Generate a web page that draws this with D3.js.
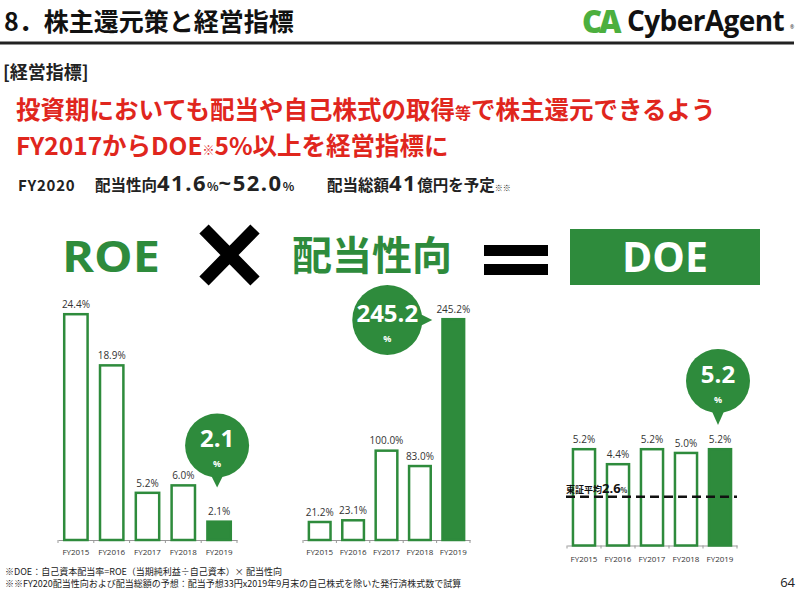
<!DOCTYPE html>
<html><head><meta charset="utf-8">
<script src="https://cdn.jsdelivr.net/npm/d3@7"></script>
<style>body{margin:0;background:#fff} svg{display:block}</style>
</head><body>
<svg id="c" width="800" height="590"></svg>
<script>
const years = ["FY2015","FY2016","FY2017","FY2018","FY2019"];
const roeValues = [24.4, 18.9, 5.2, 6.0, 2.1];
const payoutValues = [21.2, 23.1, 100.0, 83.0, 245.2];
const doeValues = [5.2, 4.4, 5.2, 5.0, 5.2];
const tseAverage = 2.6;

const GREEN = "#2e8b3c", RED = "#e0261d", JP = "'Noto Sans CJK JP', sans-serif", LAT = "'Open Sans', 'Noto Sans', sans-serif";
const svg = d3.select("#c");
const fmt = d3.format(".1f");

// Header
svg.append("text").attr("x", 4).attr("y", 31).attr("font-family", JP).attr("font-weight", 700)
  .attr("font-size", 25).attr("fill", "#111").text("8．株主還元策と経営指標");
svg.append("line").attr("x1", 0).attr("x2", 794).attr("y1", 43).attr("y2", 43).attr("stroke", "#222").attr("stroke-width", 3);
// logo
const logo = svg.append("g");
logo.append("text").attr("x", 582).attr("y", 33).attr("font-family", LAT).attr("font-weight", 800).attr("font-size", 31)
  .attr("fill", "#4caf3e").attr("letter-spacing", -3).text("CA");
logo.append("text").attr("x", 627).attr("y", 31).attr("font-family", LAT).attr("font-weight", 700).attr("font-size", 28)
  .attr("fill", "#111").attr("letter-spacing", -0.6).text("CyberAgent");
logo.append("text").attr("x", 790).attr("y", 29).attr("font-family", LAT).attr("font-size", 5).attr("fill", "#111").text("®");

svg.append("text").attr("x", 3).attr("y", 79).attr("font-family", JP).attr("font-weight", 700)
  .attr("font-size", 18).attr("fill", "#222").text("[経営指標]");

// Red headline
const r1 = svg.append("text").attr("x", 16).attr("y", 119).attr("font-family", JP).attr("font-weight", 700).attr("fill", RED);
r1.append("tspan").attr("font-size", 24.5).text("投資期においても配当や自己株式の取得");
r1.append("tspan").attr("font-size", 16).text("等");
r1.append("tspan").attr("font-size", 24.5).text("で株主還元できるよう");
const r2 = svg.append("text").attr("x", 16).attr("y", 155).attr("font-family", JP).attr("font-weight", 700).attr("fill", RED);
r2.append("tspan").attr("font-size", 24.5).text("FY2017からDOE");
r2.append("tspan").attr("font-size", 12).text("※");
r2.append("tspan").attr("font-size", 24.5).text("5%以上を経営指標に");

// line 3
const l3 = svg.append("text").attr("x", 18).attr("y", 191).attr("font-family", JP).attr("font-weight", 700).attr("fill", "#222");
l3.append("tspan").attr("font-size", 15).attr("letter-spacing", 0.8).text("FY2020");
l3.append("tspan").attr("x", 95).attr("font-size", 15.5).text("配当性向");
l3.append("tspan").attr("font-size", 22).attr("font-family", LAT).attr("letter-spacing", 1.5).text("41.6");
l3.append("tspan").attr("font-size", 12).text("%");
l3.append("tspan").attr("font-size", 22).attr("font-family", LAT).attr("letter-spacing", 1.5).text("~52.0");
l3.append("tspan").attr("font-size", 12).text("%");
l3.append("tspan").attr("x", 327).attr("font-size", 15.5).text("配当総額");
l3.append("tspan").attr("font-size", 22).attr("font-family", LAT).attr("letter-spacing", 1.5).text("41");
l3.append("tspan").attr("font-size", 15.5).text("億円を予定");
l3.append("tspan").attr("font-size", 8).text("※※");

// Section headings
svg.append("text").attr("x", 62).attr("y", 272).attr("font-family", LAT).attr("font-weight", 700)
  .attr("font-size", 43).attr("fill", GREEN).attr("textLength", 98).attr("lengthAdjust", "spacingAndGlyphs").text("ROE");
svg.append("path").attr("d", "M204,229 L255,281 M255,229 L204,281").attr("stroke", "#000").attr("stroke-width", 13);
svg.append("text").attr("x", 292).attr("y", 270).attr("font-family", JP).attr("font-weight", 700)
  .attr("font-size", 40).attr("fill", GREEN).text("配当性向");
svg.append("rect").attr("x", 484).attr("y", 245).attr("width", 64).attr("height", 11).attr("fill", "#000");
svg.append("rect").attr("x", 484).attr("y", 264).attr("width", 64).attr("height", 11).attr("fill", "#000");
svg.append("rect").attr("x", 570).attr("y", 229).attr("width", 190).attr("height", 56).attr("fill", GREEN);
svg.append("text").attr("x", 665).attr("y", 272).attr("text-anchor", "middle").attr("font-family", LAT).attr("font-weight", 700)
  .attr("font-size", 41).attr("fill", "#fff").text("DOE");

function bubble(cx, cy, r, tx, ty, label) {
  const g = svg.append("g");
  const ang = Math.atan2(ty - cy, tx - cx);
  const px = -Math.sin(ang), py = Math.cos(ang);
  const bx = cx + Math.cos(ang) * (r - 6), by = cy + Math.sin(ang) * (r - 6);
  g.append("path").attr("d", `M${bx + px * 8},${by + py * 8} L${tx},${ty} L${bx - px * 8},${by - py * 8} Z`).attr("fill", GREEN);
  g.append("circle").attr("cx", cx).attr("cy", cy).attr("r", r).attr("fill", GREEN);
  g.append("text").attr("x", cx).attr("y", cy + 2).attr("text-anchor", "middle").attr("font-family", LAT)
    .attr("font-weight", 700).attr("font-size", 24).attr("fill", "#fff").text(label);
  g.append("text").attr("x", cx).attr("y", cy + 22).attr("text-anchor", "middle").attr("font-family", LAT)
    .attr("font-weight", 700).attr("font-size", 9).attr("fill", "#fff").text("%");
}

function barChart(values, xr, base, top, labelY) {
  const x = d3.scaleBand().domain(years).range(xr).paddingInner(0.28).paddingOuter(0.14);
  const y = d3.scaleLinear().domain([0, d3.max(values)]).range([base, top]);
  const g = svg.append("g");
  const ax = g.append("g").attr("transform", `translate(0,${base})`)
    .call(d3.axisBottom(x).tickSize(0).tickPadding(labelY - base));
  ax.select(".domain").attr("stroke", "#999").attr("stroke-width", 1);
  ax.selectAll("text").attr("font-family", LAT).attr("font-size", 8).attr("fill", "#333");
  const bounds = d3.range(years.length + 1).map(i => xr[0] + i * x.step());
  g.selectAll(".bt").data(bounds).join("line").attr("x1", d => d).attr("x2", d => d)
    .attr("y1", base).attr("y2", base + 3).attr("stroke", "#999");
  g.selectAll(".bar").data(values).join("rect")
    .attr("x", (d, i) => x(years[i]) + 1.2).attr("width", x.bandwidth() - 2.4)
    .attr("y", d => y(d) + 1.2).attr("height", d => base - y(d) - 1.2)
    .attr("fill", (d, i) => i === years.length - 1 ? GREEN : "#fff")
    .attr("stroke", GREEN).attr("stroke-width", 2.5);
  g.selectAll(".val").data(values).join("text")
    .attr("x", (d, i) => x(years[i]) + x.bandwidth() / 2).attr("y", d => y(d) - 5)
    .attr("text-anchor", "middle").attr("font-family", LAT).attr("font-size", 10).attr("fill", "#333")
    .text(d => fmt(d) + "%");
  return { x, y };
}

// ROE
const c1 = barChart(roeValues, [58, 237], 540, 313, 549);
{
  const last = years[4], cx = c1.x(last) + c1.x.bandwidth() / 2 - 2;
  const ty = c1.y(roeValues[4]) - 33;
  bubble(cx, ty - 42, 32, cx, ty, fmt(roeValues[4]));
}
// Payout
const c2 = barChart(payoutValues, [303, 470], 540, 318, 549);
{
  const last = years[4];
  const tx = c2.x(last) - 9, ty = c2.y(payoutValues[4]) + 2;
  bubble(tx - 45, ty, 35, tx, ty, fmt(payoutValues[4]));
}
// DOE
const c3 = barChart(doeValues, [567, 737], 545.5, 448, 556);
{
  const last = years[4], cx = c3.x(last) + c3.x.bandwidth() / 2 - 2;
  const ty = c3.y(doeValues[4]) - 23;
  bubble(cx, ty - 44, 32, cx, ty, fmt(doeValues[4]));
  const yl = c3.y(tseAverage);
  svg.append("line").attr("x1", 566).attr("x2", 737).attr("y1", yl).attr("y2", yl)
    .attr("stroke", "#111").attr("stroke-width", 2.5).attr("stroke-dasharray", "9,5");
  const t = svg.append("text").attr("x", 566).attr("y", yl - 4).attr("font-family", JP).attr("font-weight", 700).attr("fill", "#111");
  t.append("tspan").attr("font-size", 9).text("東証平均");
  t.append("tspan").attr("font-size", 13).attr("font-family", LAT).text(fmt(tseAverage));
  t.append("tspan").attr("font-size", 7).text("%");
}

// footnotes
svg.append("text").attr("x", 5).attr("y", 575).attr("font-family", JP).attr("font-size", 9).attr("fill", "#222")
  .text("※DOE：自己資本配当率=ROE（当期純利益÷自己資本）× 配当性向");
svg.append("text").attr("x", 5).attr("y", 587).attr("font-family", JP).attr("font-size", 9).attr("fill", "#222")
  .text("※※FY2020配当性向および配当総額の予想：配当予想33円x2019年9月末の自己株式を除いた発行済株式数で試算");
svg.append("text").attr("x", 795).attr("y", 587).attr("text-anchor", "end").attr("font-family", LAT).attr("font-size", 13)
  .attr("fill", "#222").text("64");
</script>
</body></html>
